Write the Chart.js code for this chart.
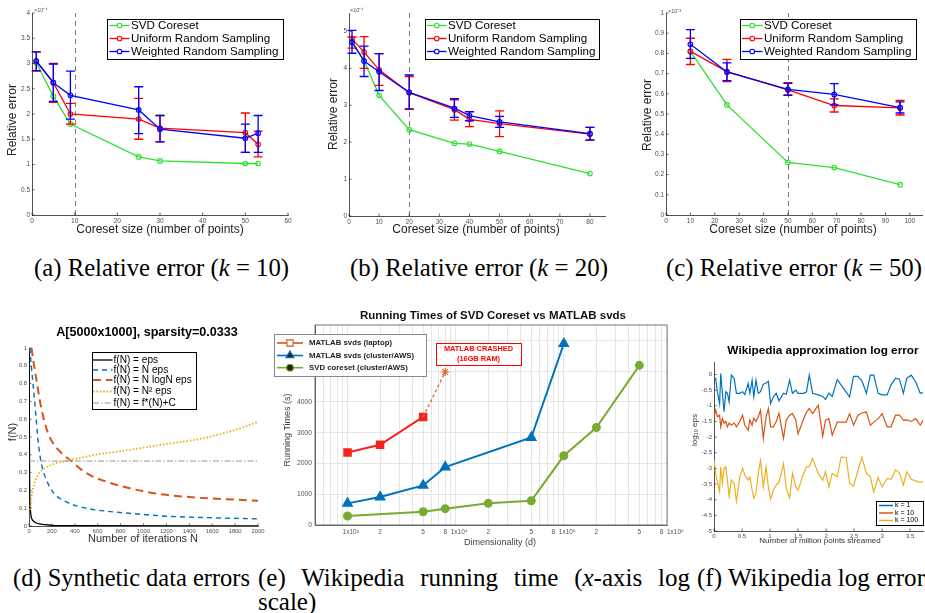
<!DOCTYPE html>
<html>
<head>
<meta charset="utf-8">
<script src="https://cdn.jsdelivr.net/npm/chart.js@4.4.1/dist/chart.umd.min.js"></script>
<style>
  body { margin: 0; background: #fff; width: 925px; height: 613px; position: relative; overflow: hidden; }
  canvas { position: absolute; }
  .cap { position: absolute; font-family: "Liberation Serif", "Times New Roman", serif; font-size: 25px;
         line-height: 25px; color: #000; white-space: nowrap; transform-origin: 0 0; }
  .cap.jl { text-align: justify; text-align-last: justify; white-space: normal; }
</style>
</head>
<body>
<canvas id="pa"></canvas>
<canvas id="pb"></canvas>
<canvas id="pc"></canvas>
<canvas id="pd"></canvas>
<canvas id="pe"></canvas>
<canvas id="pf"></canvas>

<div class="cap" data-w="255" style="left:34px;top:255px">(a) Relative error (<i>k</i> = 10)</div>
<div class="cap" data-w="258" style="left:350px;top:255px">(b) Relative error (<i>k</i> = 20)</div>
<div class="cap" data-w="256" style="left:666px;top:255px">(c) Relative error (<i>k</i> = 50)</div>
<div class="cap" data-w="237" style="left:13px;top:565px">(d) Synthetic data errors</div>
<div class="cap jl" style="left:258px;top:565px;width:432px">(e) Wikipedia running time (<i>x</i>-axis log</div>
<div class="cap" style="left:258px;top:589px">scale)</div>
<div class="cap" data-w="228" style="left:697px;top:565px">(f) Wikipedia log error</div>

<script>
/* ── Data ─────────────────────────────────────────────────────────────── */
// (a) k = 10, relative error x1e-4
const sizesA       = [1, 5, 9, 25, 30, 50, 53];
const svdA         = [3.02, 2.35, 1.80, 1.15, 1.07, 1.02, 1.02];
const uniformA     = [3.05, 2.62, 2.00, 1.90, 1.72, 1.63, 1.40];
const uniformLoA   = [2.85, 2.23, 1.80, 1.50, 1.45, 1.24, 1.15];
const uniformHiA   = [3.23, 3.00, 2.21, 2.31, 1.97, 2.02, 1.66];
const weightedA    = [3.05, 2.62, 2.37, 2.08, 1.70, 1.52, 1.62];
const weightedLoA  = [2.86, 2.25, 1.90, 1.61, 1.45, 1.24, 1.24];
const weightedHiA  = [3.23, 2.99, 2.85, 2.54, 1.97, 1.80, 1.97];

// (b) k = 20, relative error x1e-4
const sizesB       = [1, 5, 10, 20, 35, 40, 50, 80];
const svdB         = [4.74, 4.21, 3.27, 2.34, 1.97, 1.95, 1.75, 1.15];
const uniformB     = [4.80, 4.44, 3.96, 3.34, 2.88, 2.62, 2.50, 2.22];
const uniformLoB   = [4.55, 4.00, 3.54, 2.89, 2.60, 2.42, 2.15, 2.05];
const uniformHiB   = [4.85, 4.86, 4.40, 3.78, 3.15, 2.82, 2.85, 2.40];
const weightedB    = [4.71, 4.20, 3.91, 3.35, 2.92, 2.72, 2.55, 2.23];
const weightedLoB  = [4.41, 3.78, 3.40, 2.90, 2.67, 2.58, 2.40, 2.06];
const weightedHiB  = [5.03, 4.60, 4.40, 3.82, 3.18, 2.83, 2.70, 2.40];

// (c) k = 50, relative error x1e-3
const sizesC       = [10, 25, 50, 69, 96];
const svdC         = [0.81, 0.545, 0.26, 0.235, 0.15];
const uniformC     = [0.81, 0.71, 0.62, 0.542, 0.53];
const uniformLoC   = [0.745, 0.66, 0.595, 0.51, 0.495];
const uniformHiC   = [0.875, 0.77, 0.655, 0.575, 0.567];
const weightedC    = [0.845, 0.708, 0.622, 0.597, 0.532];
const weightedLoC  = [0.775, 0.665, 0.592, 0.545, 0.505];
const weightedHiC  = [0.918, 0.753, 0.652, 0.65, 0.56];

// (d) synthetic data errors
const epsN    = [1, 3, 5, 8, 12, 20, 35, 60, 100, 200, 400, 2000];
const epsVal  = [1.0, 0.6, 0.3, 0.15, 0.09, 0.05, 0.03, 0.018, 0.01, 0.004, 0.002, 0.0005];
const linN    = [8, 20, 35, 59, 79, 108, 152, 210, 327, 500, 650, 900, 1200, 1500, 2000];
const linVal  = [1.0, 0.9, 0.8, 0.63, 0.48, 0.35, 0.26, 0.19, 0.135, 0.1, 0.085, 0.07, 0.055, 0.048, 0.04];
const nlogN   = [22, 40, 65, 108, 167, 240, 300, 370, 450, 550, 650, 800, 1000, 1200, 1500, 1800, 2000];
const nlogVal = [1.0, 0.92, 0.82, 0.66, 0.52, 0.44, 0.4, 0.365, 0.32, 0.28, 0.255, 0.225, 0.195, 0.175, 0.158, 0.148, 0.142];
const sqN     = [12, 20, 35, 60, 93, 140, 200, 280, 370, 500, 620, 800, 1000, 1200, 1500, 1800, 2000];
const sqVal   = [0.09, 0.15, 0.21, 0.26, 0.3, 0.325, 0.345, 0.36, 0.372, 0.39, 0.405, 0.42, 0.44, 0.46, 0.49, 0.54, 0.585];
const constN  = [0, 2000];
const constVal = [0.365, 0.365];

// (e) running times (s)
const laptopDims   = [1000, 2000, 5000];
const laptopTimes  = [2357, 2605, 3513];
const crashDims    = [5000, 8000];
const crashTimes   = [3513, 4973];
const clusterDims  = [1000, 2000, 5000, 8000, 50000, 100000];
const clusterTimes = [703, 908, 1286, 1881, 2843, 5892];
const coresetDims  = [1000, 5000, 8000, 20000, 50000, 100000, 200000, 500000];
const coresetTimes = [292, 432, 530, 703, 789, 2249, 3168, 5189];
const timeTicks    = [0, 1000, 2000, 3000, 4000, 5000, 6000];
const dimTickVals  = [1e3, 2e3, 5e3, 8e3, 1e4, 2e4, 5e4, 8e4, 1e5, 2e5, 5e5, 8e5, 1e6];
const dimTickText  = ['1x10³', '2', '5', '8', '1x10⁴', '2', '5', '8', '1x10⁵', '2', '5', '8', '1x10⁶'];

// (f) Wikipedia log10 error
const wikiX = [0, 0.03, 0.06, 0.1, 0.12, 0.15, 0.18, 0.21, 0.24, 0.27, 0.31, 0.36, 0.4, 0.46, 0.51, 0.55,
  0.61, 0.64, 0.68, 0.71, 0.75, 0.79, 0.83, 0.88, 0.93, 0.97, 1.01, 1.06, 1.11, 1.16, 1.24, 1.29, 1.35,
  1.4, 1.46, 1.5, 1.59, 1.65, 1.7, 1.76, 1.86, 1.94, 1.99, 2.05, 2.11, 2.2, 2.27, 2.36, 2.42, 2.49, 2.57,
  2.64, 2.72, 2.79, 2.85, 2.93, 3.0, 3.09, 3.16, 3.24, 3.31, 3.38, 3.44, 3.52, 3.6, 3.68, 3.73];
const wikiK1 = [-0.18, -0.13, -0.55, -0.93, 0.03, -0.6, -1.19, -0.55, -0.6, -0.87, -0.02, -0.13, -0.6, -0.6,
  -0.55, -0.64, -0.29, -0.6, -0.18, -0.71, -0.18, -0.6, -0.55, -0.31, -0.27, -0.22, -0.93, -0.71, -0.6,
  -0.84, -0.6, -0.63, -0.18, -0.6, -0.5, -0.6, -0.6, -0.56, -0.02, -0.6, -0.65, -0.7, -0.8, -0.6, -0.7,
  -0.16, -0.34, -0.56, -0.72, -0.06, -0.06, -0.2, -0.6, -0.02, -0.02, -0.6, -0.65, -0.65, -0.33, -0.12,
  -0.15, -0.6, -0.12, -0.02, -0.24, -0.6, -0.58];
const wikiK10 = [-1.35, -1.14, -1.35, -1.3, -1.67, -1.4, -1.56, -1.5, -1.67, -1.55, -1.62, -1.55, -1.67,
  -1.5, -1.3, -1.62, -1.78, -1.45, -1.62, -1.4, -1.5, -1.35, -1.14, -2.04, -1.35, -1.09, -1.67, -1.67,
  -1.5, -1.24, -2.04, -1.45, -1.3, -1.25, -1.45, -1.9, -1.46, -1.2, -1.09, -1.25, -0.98, -1.97, -1.46,
  -1.41, -1.94, -1.52, -1.52, -1.52, -1.25, -1.62, -1.3, -1.23, -1.2, -1.62, -1.52, -1.41, -1.25, -1.67,
  -1.67, -1.3, -1.3, -1.46, -1.45, -1.5, -1.41, -1.62, -1.46];
const wikiK100 = [-2.73, -3.16, -3.43, -3.74, -2.95, -3.48, -3.0, -2.95, -3.4, -3.9, -3.37, -3.48, -4.05,
  -3.27, -3.0, -3.21, -3.37, -3.27, -3.69, -3.95, -3.8, -3.16, -2.75, -3.59, -2.95, -3.59, -3.98, -3.7,
  -3.53, -3.45, -2.85, -3.64, -3.95, -3.16, -3.59, -3.7, -3.2, -2.95, -2.95, -2.68, -3.16, -3.38, -3.1,
  -3.59, -3.16, -3.27, -2.63, -2.65, -3.48, -3.57, -3.06, -2.65, -3.16, -3.27, -3.75, -3.3, -3.59, -3.32,
  -3.35, -3.04, -3.15, -3.53, -3.1, -3.35, -3.4, -3.45, -3.42];

/* ── Styling helpers ──────────────────────────────────────────────────── */
const FONT = '"Liberation Sans", Arial, Helvetica, sans-serif';
const AXIS = '#262626';
const GREEN = '#2ee02e', RED = '#ff0000', BLUE = '#0000ff';
const M_BLUE = '#0072BD', M_ORANGE = '#D95319', M_YELLOW = '#EDB120', M_GREEN = '#77AC30';

const zip = (xs, ys) => xs.map((x, i) => ({ x, y: ys[i] }));
const fmt = v => String(Math.round(v * 1e6) / 1e6);
// ticks at every multiple of step between the axis limits
const onStep = step => s => {
  const out = [];
  for (let k = Math.ceil(s.min / step - 1e-9); k * step <= s.max + 1e-9; k++) {
    out.push({ value: Math.round(k * step * 1e6) / 1e6 });
  }
  s.ticks = out;
};

function axis(min, max, step, size, extra) {
  return Object.assign({
    type: 'linear', min, max,
    grid: { display: true, drawOnChartArea: false, drawTicks: false },
    border: { display: true, color: AXIS, width: 0.8 },
    ticks: { font: { family: FONT, size }, color: '#4d4d4d', padding: 2,
             callback: fmt, autoSkip: false, maxRotation: 0, minRotation: 0 },
    afterBuildTicks: onStep(step),
  }, extra || {});
}

function drawMarker(ctx, style, x, y, r, color, fill) {
  ctx.save();
  ctx.strokeStyle = color; ctx.fillStyle = fill || color; ctx.lineWidth = 1.1; ctx.setLineDash([]);
  ctx.beginPath();
  if (style === 'rect') ctx.rect(x - r * 0.707, y - r * 0.707, r * 1.414, r * 1.414);
  else if (style === 'triangle') {
    ctx.moveTo(x, y - r); ctx.lineTo(x + r * 0.866, y + r * 0.5); ctx.lineTo(x - r * 0.866, y + r * 0.5); ctx.closePath();
  } else ctx.arc(x, y, r, 0, Math.PI * 2);
  if (fill !== 'none') ctx.fill();
  ctx.stroke();
  ctx.restore();
}

/* ── Decoration plugin: error bars, ref lines, legends, labels ────────── */
const decor = {
  id: 'decor',
  beforeDatasetsDraw(chart, args, o) {
    const { ctx, chartArea: a, scales: { x } } = chart;
    ctx.save();
    if (o.box) {
      ctx.strokeStyle = o.box; ctx.lineWidth = 0.8;
      ctx.strokeRect(a.left, a.top, a.right - a.left, a.bottom - a.top);
    }
    (o.vlines || []).forEach(v => {
      const px = Math.round(x.getPixelForValue(v)) + 0.5;
      ctx.strokeStyle = '#7a7a7a'; ctx.lineWidth = 1; ctx.setLineDash([5, 4]);
      ctx.beginPath(); ctx.moveTo(px, a.bottom); ctx.lineTo(px, a.top); ctx.stroke();
    });
    ctx.restore();
  },
  afterDatasetDraw(chart, args, o) {
    const eb = o.errorBars && o.errorBars[args.index];
    if (!eb) return;
    const { ctx, scales: { x, y } } = chart;
    ctx.save();
    ctx.strokeStyle = eb.color; ctx.lineWidth = 1.3;
    eb.xs.forEach((v, i) => {
      const px = x.getPixelForValue(v), lo = y.getPixelForValue(eb.lo[i]), hi = y.getPixelForValue(eb.hi[i]);
      ctx.beginPath();
      ctx.moveTo(px, lo); ctx.lineTo(px, hi);
      ctx.moveTo(px - 4.5, lo); ctx.lineTo(px + 4.5, lo);
      ctx.moveTo(px - 4.5, hi); ctx.lineTo(px + 4.5, hi);
      ctx.stroke();
    });
    ctx.restore();
  },
  afterDraw(chart, args, o) {
    const { ctx, chartArea: a, scales: { x, y } } = chart;
    const ox = o.origin[0], oy = o.origin[1];
    ctx.save();
    if (o.inTicks) {
      ctx.strokeStyle = AXIS; ctx.lineWidth = 0.7;
      x.ticks.forEach(t => {
        const px = x.getPixelForValue(t.value);
        ctx.beginPath(); ctx.moveTo(px, a.bottom); ctx.lineTo(px, a.bottom - 2.5); ctx.stroke();
      });
      y.ticks.forEach(t => {
        const py = y.getPixelForValue(t.value);
        ctx.beginPath(); ctx.moveTo(a.left, py); ctx.lineTo(a.left + 2.5, py); ctx.stroke();
      });
    }
    if (o.logLabels) {
      // decade labels start just left of their tick, the others sit centred on it
      const L = o.logLabels;
      ctx.font = L.font; ctx.fillStyle = '#555'; ctx.textBaseline = 'middle';
      L.values.forEach((v, i) => {
        const px = x.getPixelForValue(v);
        const decade = L.text[i].length > 1;
        ctx.textAlign = decade ? 'left' : 'center';
        ctx.fillText(L.text[i], decade ? px - 5 : px, a.bottom + 7.5);
      });
    }
    if (o.note) {
      const n = o.note;
      ctx.fillStyle = '#fff'; ctx.fillRect(n.box[0] - ox, n.box[1] - oy, n.box[2], n.box[3]);
      ctx.strokeStyle = n.color; ctx.lineWidth = 1;
      ctx.strokeRect(n.box[0] - ox + 0.5, n.box[1] - oy + 0.5, n.box[2], n.box[3]);
      ctx.fillStyle = n.color; ctx.font = n.font; ctx.textAlign = 'center'; ctx.textBaseline = 'middle';
      n.lines.forEach((s, i) => ctx.fillText(s, n.box[0] - ox + n.box[2] / 2, n.lineY[i] - oy));
    }
    if (o.legend) {
      const L = o.legend;
      ctx.fillStyle = '#fff'; ctx.fillRect(L.box[0] - ox, L.box[1] - oy, L.box[2], L.box[3]);
      ctx.strokeStyle = L.border; ctx.lineWidth = 1;
      ctx.strokeRect(L.box[0] - ox + 0.5, L.box[1] - oy + 0.5, L.box[2], L.box[3]);
      L.items.forEach((it, i) => {
        const yy = L.rowY[i] - oy;
        ctx.save();
        ctx.strokeStyle = it.color; ctx.lineWidth = it.width || 1.3; ctx.setLineDash(it.dash || []);
        ctx.beginPath(); ctx.moveTo(L.lineX[0] - ox, yy); ctx.lineTo(L.lineX[1] - ox, yy); ctx.stroke();
        ctx.restore();
        if (it.marker) drawMarker(ctx, it.marker, (L.lineX[0] + L.lineX[1]) / 2 - ox, yy, it.r, it.color, it.fill);
        ctx.fillStyle = L.color || '#000'; ctx.font = L.font; ctx.textAlign = 'left'; ctx.textBaseline = 'middle';
        ctx.fillText(it.label, L.textX - ox, yy);
      });
    }
    (o.texts || []).forEach(t => {
      ctx.save();
      ctx.font = t.font; ctx.fillStyle = t.color || '#222';
      ctx.textAlign = t.align || 'center'; ctx.textBaseline = 'middle';
      ctx.translate(t.x - ox, t.y - oy);
      if (t.rot) ctx.rotate(t.rot);
      ctx.fillText(t.text, 0, 0);
      ctx.restore();
    });
    ctx.restore();
  },
};

function makePanel(id, rect, plot, datasets, xOpt, yOpt, deco) {
  const cv = document.getElementById(id);
  cv.width = rect[2]; cv.height = rect[3];
  cv.style.left = rect[0] + 'px'; cv.style.top = rect[1] + 'px';
  xOpt.afterFit = s => { s.height = rect[1] + rect[3] - plot[3]; };
  yOpt.afterFit = s => { s.width = plot[0] - rect[0]; };
  deco.origin = [rect[0], rect[1]];
  return new Chart(cv, {
    type: 'line',
    data: { datasets },
    options: {
      responsive: false, animation: false, events: [],
      layout: { autoPadding: false,
                padding: { left: 0, bottom: 0, top: plot[1] - rect[1], right: rect[0] + rect[2] - plot[2] } },
      plugins: { legend: { display: false }, tooltip: { enabled: false }, decor: deco },
      scales: { x: xOpt, y: yOpt },
    },
    plugins: [decor],
  });
}

/* ── (a)-(c) coreset relative error ───────────────────────────────────── */
function coresetSets(xs, svd, uni, wtd) {
  const base = { borderWidth: 1.3, pointRadius: 2.3, pointBorderWidth: 1.1,
                 pointBackgroundColor: 'rgba(0,0,0,0)', tension: 0 };
  return [
    Object.assign({}, base, { data: zip(xs, svd), borderColor: GREEN, pointBorderColor: GREEN, order: 3 }),
    Object.assign({}, base, { data: zip(xs, uni), borderColor: RED, pointBorderColor: RED, order: 2 }),
    Object.assign({}, base, { data: zip(xs, wtd), borderColor: BLUE, pointBorderColor: BLUE, order: 1 }),
  ];
}
function coresetLegend(box, lineX, textX) {
  return {
    box, lineX, textX, rowY: [box[1] + 6.5, box[1] + 19.5, box[1] + 32.5], border: '#000',
    font: '11.6px ' + FONT,
    items: [
      { label: 'SVD Coreset', color: GREEN, marker: 'circle', r: 2.3, fill: '#fff' },
      { label: 'Uniform Random Sampling', color: RED, marker: 'circle', r: 2.3, fill: '#fff' },
      { label: 'Weighted Random Sampling', color: BLUE, marker: 'circle', r: 2.3, fill: '#fff' },
    ],
  };
}
function coresetTexts(yx, yy, xx, mult, mx, my) {
  return [
    { text: 'Relative error', x: yx, y: yy, rot: -Math.PI / 2, font: '12px ' + FONT },
    { text: 'Coreset size (number of points)', x: xx, y: 230, font: '12px ' + FONT },
    { text: mult, x: mx, y: my, align: 'left', font: '5.5px ' + FONT, color: '#555' },
  ];
}

makePanel('pa', [0, 0, 300, 245], [32, 13, 288, 215],
  coresetSets(sizesA, svdA, uniformA, weightedA),
  axis(0, 60, 10, 6.5), axis(0, 4, 0.5, 6.5),
  { inTicks: true, vlines: [10],
    errorBars: { 1: { color: RED, xs: sizesA, lo: uniformLoA, hi: uniformHiA },
                 2: { color: BLUE, xs: sizesA, lo: weightedLoA, hi: weightedHiA } },
    legend: coresetLegend([107, 19, 176, 40], [109.5, 129.5], 131),
    texts: coresetTexts(12.5, 120, 160, '×10⁻⁴', 34, 10.5) });

makePanel('pb', [300, 0, 310, 245], [349, 13, 605, 216],
  coresetSets(sizesB, svdB, uniformB, weightedB),
  axis(0, 85, 10, 6.5), axis(0, 5.5, 1, 6.5),
  { inTicks: true, vlines: [20],
    errorBars: { 1: { color: RED, xs: sizesB, lo: uniformLoB, hi: uniformHiB },
                 2: { color: BLUE, xs: sizesB, lo: weightedLoB, hi: weightedHiB } },
    legend: coresetLegend([425, 19, 174, 40], [427, 446.5], 448),
    texts: coresetTexts(334, 114, 476, '×10⁻⁴', 350, 10) });

makePanel('pc', [610, 0, 315, 245], [666, 13, 922, 215],
  coresetSets(sizesC, svdC, uniformC, weightedC),
  axis(0, 105, 10, 6.5), axis(0, 1, 0.1, 6.5),
  { inTicks: true, vlines: [50],
    errorBars: { 1: { color: RED, xs: sizesC, lo: uniformLoC, hi: uniformHiC },
                 2: { color: BLUE, xs: sizesC, lo: weightedLoC, hi: weightedHiC } },
    legend: coresetLegend([740, 19, 176, 40], [742, 762.5], 764),
    texts: coresetTexts(648, 115, 793, '×10⁻³', 668, 11) });

/* ── (d) synthetic data errors ────────────────────────────────────────── */
const curve = { pointRadius: 0, cubicInterpolationMode: 'monotone', fill: false };
makePanel('pd', [0, 295, 270, 255], [29, 348, 258, 526], [
    Object.assign({}, curve, { data: zip(constN, constVal), borderColor: '#8c8c8c', borderWidth: 0.9, borderDash: [6, 2, 1.5, 2] }),
    Object.assign({}, curve, { data: zip(sqN, sqVal), borderColor: M_YELLOW, borderWidth: 1.8, borderDash: [1.6, 1.8] }),
    Object.assign({}, curve, { data: zip(nlogN, nlogVal), borderColor: M_ORANGE, borderWidth: 2, borderDash: [8, 5] }),
    Object.assign({}, curve, { data: zip(linN, linVal), borderColor: M_BLUE, borderWidth: 1.4, borderDash: [5, 4] }),
    Object.assign({}, curve, { data: zip(epsN, epsVal), borderColor: '#000', borderWidth: 1.3 }),
  ],
  axis(0, 2000, 200, 5.8), axis(0, 1, 0.1, 5.8),
  { inTicks: true,
    legend: { box: [92, 352, 104, 57], lineX: [93, 112.5], textX: 113.5, border: '#000',
              rowY: [360, 370, 380, 391.5, 403], font: '10.1px ' + FONT,
              items: [
                { label: 'f(N) = eps', color: '#000', width: 1.3 },
                { label: 'f(N) = N eps', color: M_BLUE, width: 1.4, dash: [5, 4] },
                { label: 'f(N) = N logN eps', color: M_ORANGE, width: 2, dash: [8, 5] },
                { label: 'f(N) = N² eps', color: M_YELLOW, width: 1.8, dash: [1.6, 1.8] },
                { label: 'f(N) = f*(N)+C', color: '#8c8c8c', width: 0.9, dash: [6, 2, 1.5, 2] },
              ] },
    texts: [
      { text: 'A[5000x1000], sparsity=0.0333', x: 147, y: 333, font: 'bold 12.6px ' + FONT, color: '#000' },
      { text: 'f(N)', x: 13, y: 432, rot: -Math.PI / 2, font: '11px ' + FONT, color: '#333' },
      { text: 'Number of iterations N', x: 143, y: 538.5, font: '11px ' + FONT, color: '#333' },
    ] });

/* ── (e) running times, log x ─────────────────────────────────────────── */
const dimGrid = [];
[100, 1000, 10000, 100000].forEach(d => {
  for (let m = 1; m <= 9; m++) if (d * m >= 500 && d * m <= 900000) dimGrid.push(d * m);
});
const mk = (style, r) => ({ pointStyle: style, pointRadius: r, borderWidth: 2, tension: 0 });
const lightGrid = { color: '#e0e0e0', lineWidth: 0.8, drawTicks: false };
makePanel('pe', [270, 295, 420, 260], [315, 325, 667, 525], [
    Object.assign(mk('circle', 3.5), { data: zip(coresetDims, coresetTimes), borderColor: M_GREEN, pointBackgroundColor: M_GREEN, pointBorderColor: M_GREEN }),
    Object.assign(mk('triangle', 4.8), { data: zip(clusterDims, clusterTimes), borderColor: M_BLUE, pointBackgroundColor: M_BLUE, pointBorderColor: M_BLUE }),
    Object.assign(mk('star', 4), { data: zip(crashDims, crashTimes), borderColor: '#E8643A', borderWidth: 1.4, borderDash: [3, 2.5],
                                   pointRadius: [0, 4], pointBorderColor: '#E8643A', pointBorderWidth: 1.2 }),
    Object.assign(mk('rect', 4.6), { data: zip(laptopDims, laptopTimes), borderColor: '#F5231B', pointBackgroundColor: '#F5231B', pointBorderColor: '#F5231B' }),
  ],
  { type: 'logarithmic', min: 500, max: 900000,
    grid: lightGrid,
    border: { display: true, color: '#555', width: 0.8 },
    ticks: { display: false },
    afterBuildTicks: s => { s.ticks = dimGrid.map(v => ({ value: v })); } },
  { type: 'linear', min: 0, max: 6500,
    grid: lightGrid,
    border: { display: true, color: '#555', width: 0.8 },
    ticks: { font: { family: FONT, size: 6.8 }, color: '#555', padding: 3, callback: fmt, autoSkip: false },
    afterBuildTicks: s => { s.ticks = timeTicks.map(v => ({ value: v })); } },
  { box: '#555',
    logLabels: { values: dimTickVals, text: dimTickText, font: '6.5px ' + FONT },
    note: { box: [436, 343, 85, 22], color: '#ff0000', font: 'bold 7.4px ' + FONT,
            lines: ['MATLAB CRASHED', '(16GB RAM)'], lineY: [349, 358.5] },
    legend: { box: [274, 334, 152, 42], lineX: [277, 303], textX: 309, border: '#888',
              rowY: [343, 355.5, 367.7], font: 'bold 7.8px ' + FONT, color: '#222',
              items: [
                { label: 'MATLAB svds (laptop)', color: M_ORANGE, width: 1.6, marker: 'rect', r: 4.4 },
                { label: 'MATLAB svds (cluster/AWS)', color: M_BLUE, width: 1.6, marker: 'triangle', r: 4.6 },
                { label: 'SVD coreset (cluster/AWS)', color: M_GREEN, width: 1.6, marker: 'circle', r: 3.4 },
              ] },
    texts: [
      { text: 'Running Times of SVD Coreset vs MATLAB svds', x: 493, y: 315.5, font: 'bold 11.5px ' + FONT, color: '#111' },
      { text: 'Running Times (s)', x: 288, y: 430, rot: -Math.PI / 2, font: '9px ' + FONT, color: '#444' },
      { text: 'Dimensionality (d)', x: 500, y: 543, font: '9px ' + FONT, color: '#444' },
    ] });

/* ── (f) Wikipedia log error ──────────────────────────────────────────── */
const wline = c => ({ borderColor: c, borderWidth: 1.2, pointRadius: 0, tension: 0 });
makePanel('pf', [690, 330, 235, 225], [714, 362, 923, 531], [
    Object.assign(wline(M_YELLOW), { data: zip(wikiX, wikiK100) }),
    Object.assign(wline(M_ORANGE), { data: zip(wikiX, wikiK10) }),
    Object.assign(wline(M_BLUE), { data: zip(wikiX, wikiK1) }),
  ],
  axis(0, 3.73, 0.5, 6), axis(-5, 0.4, 0.5, 6),
  { inTicks: true,
    legend: { box: [876, 501, 47, 24], lineX: [879, 893], textX: 895, border: '#000',
              rowY: [505.5, 513, 520.5], font: '7px ' + FONT,
              items: [
                { label: 'k = 1', color: M_BLUE, width: 1.5 },
                { label: 'k = 10', color: M_ORANGE, width: 1.5 },
                { label: 'k = 100', color: M_YELLOW, width: 1.5 },
              ] },
    texts: [
      { text: 'Wikipedia approximation log error', x: 823, y: 351, font: 'bold 11.8px ' + FONT, color: '#000' },
      { text: 'log₁₀ eps', x: 695, y: 430, rot: -Math.PI / 2, font: '8px ' + FONT, color: '#333' },
      { text: 'Number of million points streamed', x: 820, y: 541, font: '8px ' + FONT, color: '#333' },
    ] });

/* ── Captions: squeeze to the widths of the original ──────────────────── */
document.querySelectorAll('.cap[data-w]').forEach(el => {
  const w = el.getBoundingClientRect().width;
  el.style.transform = 'scaleX(' + (el.dataset.w / w) + ')';
});
</script>
</body>
</html>
